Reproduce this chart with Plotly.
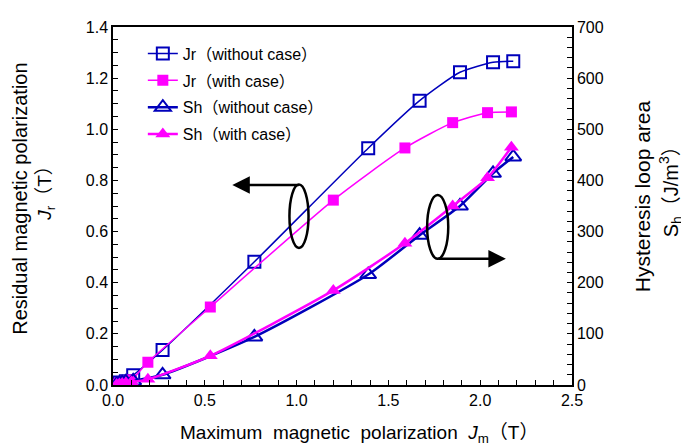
import plotly.graph_objects as go

# ---- data ----
jm_without = [0.02, 0.035, 0.05, 0.07, 0.11, 0.27, 0.77, 1.39, 1.67, 1.89, 2.07, 2.18]
jr_without = [0.003, 0.010, 0.006, 0.015, 0.038, 0.137, 0.482, 0.926, 1.112, 1.223, 1.262, 1.266]
sh_without = [1, 3, 4, 6, 8, 20, 94, 216, 293, 350, 414, 446]

jm_with = [0.02, 0.035, 0.05, 0.07, 0.10, 0.19, 0.53, 1.20, 1.59, 1.85, 2.04, 2.17]
jr_with = [0.003, 0.008, 0.010, 0.015, 0.020, 0.089, 0.305, 0.723, 0.927, 1.026, 1.065, 1.068]
sh_with = [1, 2, 3, 4, 6, 11, 57, 185, 277, 350, 405, 465]

x_ticks = [0.0, 0.5, 1.0, 1.5, 2.0, 2.5]
y_ticks = [0.0, 0.2, 0.4, 0.6, 0.8, 1.0, 1.2, 1.4]
y2_ticks = [0, 100, 200, 300, 400, 500, 600, 700]

BLUE = "#0000BB"
MAG = "#FF00FF"
FONT = "Liberation Sans, Arial, Noto Sans CJK JP"

fig = go.Figure()
fig.add_trace(go.Scatter(
    x=jm_without, y=jr_without, name="Jr（without case）", legendgroup="a",
    mode="lines+markers", line=dict(color=BLUE, width=1.5, shape="spline", smoothing=0.6),
    marker=dict(symbol="square-open", size=12, color=BLUE, line=dict(width=2, color=BLUE))))
fig.add_trace(go.Scatter(
    x=jm_with, y=jr_with, name="Jr（with case）", legendgroup="b",
    mode="lines+markers", line=dict(color=MAG, width=1.5, shape="spline", smoothing=0.6),
    marker=dict(symbol="square", size=11, color=MAG)))
fig.add_trace(go.Scatter(
    x=jm_without, y=sh_without, name="Sh（without case）", legendgroup="c", yaxis="y2",
    mode="lines+markers", line=dict(color=BLUE, width=2.5, shape="spline", smoothing=0.6),
    marker=dict(symbol="triangle-up-open", size=14, color=BLUE, line=dict(width=2, color=BLUE))))
fig.add_trace(go.Scatter(
    x=jm_with, y=sh_with, name="Sh（with case）", legendgroup="d", yaxis="y2",
    mode="lines+markers", line=dict(color=MAG, width=2.5, shape="spline", smoothing=0.6),
    marker=dict(symbol="triangle-up", size=13, color=MAG)))

# ellipses and arrows
fig.add_shape(type="circle", xref="x", yref="y", x0=0.961, x1=1.065, y0=0.536, y1=0.784,
              line=dict(color="black", width=2.5))
fig.add_shape(type="circle", xref="x", yref="y", x0=1.711, x1=1.826, y0=0.4935, y1=0.743,
              line=dict(color="black", width=2.5))
fig.add_annotation(x=0.65, y=0.782, ax=1.02, ay=0.782, xref="x", yref="y", axref="x", ayref="y",
                   text="", showarrow=True, arrowhead=2, arrowsize=1.4, arrowwidth=2.5, arrowcolor="black")
fig.add_annotation(x=2.14, y=0.4935, ax=1.765, ay=0.4935, xref="x", yref="y", axref="x", ayref="y",
                   text="", showarrow=True, arrowhead=2, arrowsize=1.4, arrowwidth=2.5, arrowcolor="black")

# axis titles
def title(text, x, y, size, angle=0):
    fig.add_annotation(text=text, xref="paper", yref="paper", x=x, y=y, textangle=angle,
                       xanchor="center", yanchor="middle", showarrow=False,
                       font=dict(family=FONT, size=size, color="black"))

title("Residual magnetic polarization", -0.2013, 0.519, 20, -90)
title("<i>J</i><sub>r</sub>（T）", -0.1447, 0.55, 19, -90)
title("Hysteresis loop area", 1.1523, 0.527, 21, -90)
title("S<sub>h</sub>（J/m<sup>3</sup>）", 1.2155, 0.5546, 20, -90)
title("Maximum  magnetic  polarization  <i>J</i><sub>m</sub>（T）", 0.5365, -0.1366, 19)

tickfont = dict(family=FONT, size=16, color="black")
fig.update_layout(
    width=681, height=439,
    margin=dict(l=104.5, r=117, t=11, b=62),
    paper_bgcolor="white", plot_bgcolor="white",
    showlegend=True,
    legend=dict(x=0.065, y=0.973, xanchor="left", yanchor="top", bgcolor="rgba(0,0,0,0)",
                font=dict(family=FONT, size=16, color="black"), traceorder="grouped",
                tracegroupgap=3),
    xaxis=dict(range=[0, 2.5], tickvals=x_ticks, ticktext=[f"{v:.1f}" for v in x_ticks],
               ticks="inside", ticklen=5, tickcolor="black", showline=True, linecolor="black",
               linewidth=1.5, mirror=True, showgrid=False, zeroline=False, tickfont=tickfont,
               minor=dict(dtick=0.1, ticks="inside", ticklen=5, tickcolor="black")),
    yaxis=dict(range=[0, 1.4], tickvals=y_ticks, ticktext=[f"{v:.1f}" for v in y_ticks],
               ticks="inside", ticklen=5, tickcolor="black", showline=True, linecolor="black",
               linewidth=1.5, showgrid=False, zeroline=False, tickfont=tickfont,
               minor=dict(dtick=0.05, ticks="inside", ticklen=5, tickcolor="black")),
    yaxis2=dict(range=[0, 700], tickvals=y2_ticks, ticktext=[str(v) for v in y2_ticks],
                overlaying="y", side="right",
                ticks="inside", ticklen=5, tickcolor="black", showline=True, linecolor="black",
                linewidth=1.5, showgrid=False, zeroline=False, tickfont=tickfont,
                minor=dict(dtick=20, ticks="inside", ticklen=5, tickcolor="black")),
)

fig.write_html("out.html")
